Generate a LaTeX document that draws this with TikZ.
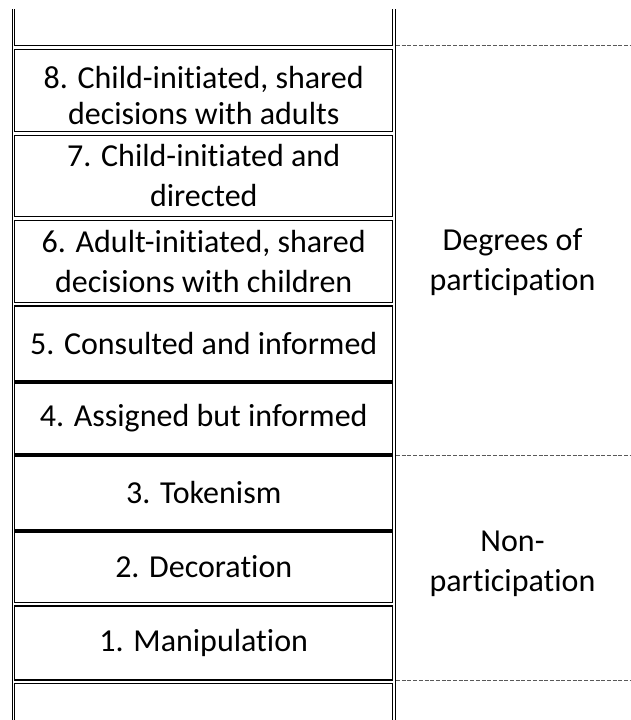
\documentclass[tikz,border=0pt]{standalone}
\usepackage{fontspec}
\setmainfont{Carlito}[Ligatures={NoCommon,NoContextual},RawFeature=-liga]
\usepackage{xcolor}
\usepackage{tikz}
\usetikzlibrary{calc,positioning}
\definecolor{LadderInk}{HTML}{000000}
\definecolor{LadderDash}{HTML}{595959}
\newcommand{\ladderfont}{\fontsize{32}{40}\selectfont}

\tikzset{
  rung/.style={draw=LadderInk,line width=1.3pt,minimum width=377.9pt,inner sep=0pt,outer sep=0pt,align=center,font=\ladderfont},
  rail/.style={draw=LadderInk,line width=1.3pt},
  heavyrung/.style={draw=LadderInk,line width=4pt},
  divider/.style={draw=LadderDash,line width=1pt,dash pattern=on 4pt off 1.7pt},
  zone/.style={align=center,font=\ladderfont}
}

\begin{document}
\begin{tikzpicture}[x=1pt,y=-1pt]
    \useasboundingbox (0,0) rectangle (630,720);
    % outer rails
    \draw[rail] (12.5,9) -- (12.5,720);
    \draw[rail] (395.2,9) -- (395.2,720);
    % open cells at both ends
    \draw[rail] (14.8,9) |- (392.7,45.7) -- (392.7,9);
    \draw[rail] (14.8,720) |- (392.7,683.3) -- (392.7,720);
    % the rungs, top to bottom
    \node[rung,minimum height=82.4pt,label={[font=\ladderfont,align=center,yshift=-5pt]center:8. Child-initiated, shared\\[-4pt]decisions with adults}] (r8) at (203.75,90.5) {};
    \node[rung,minimum height=81.4pt] (r7) at (203.75,176) {7. Child-initiated and\\directed};
    \node[rung,minimum height=82.4pt] (r6) at (203.75,261.5) {6. Adult-initiated, shared\\decisions with children};
    \node[rung,minimum height=75.7pt] (r5) at (203.75,343.85) {5. Consulted and informed};
    \node[rung,minimum height=73.3pt] (r4) at (203.75,418.35) {4. Assigned but informed};
    \node[rung,minimum height=76pt] (r3) at (203.75,493) {3. Tokenism};
    \node[rung,minimum height=71.7pt] (r2) at (203.75,566.85) {2. Decoration};
    \node[rung,minimum height=74pt] (r1) at (203.75,643) {1. Manipulation};
    % heavy borders
    \draw[heavyrung] (r5.south west) -- (r5.south east);
    \draw[heavyrung] (r4.south west) -- (r4.south east);
    \draw[heavyrung] (r3.south west) -- (r3.south east);
    % zone labels
    \node[zone] (part) at (512.5,262) {Degrees of\\participation};
    \node[zone] (nonpart) at (512.5,564) {Non-\\participation};
    \coordinate (edge) at (630,0);
    \draw[divider] (396,45.7) -- (edge |- 0,45.7);
    \draw[divider] (r4.south -| 396,0) -- (r4.south -| edge);
    \draw[divider] (r1.south -| 396,0) -- (r1.south -| edge);
\end{tikzpicture}
\end{document}
